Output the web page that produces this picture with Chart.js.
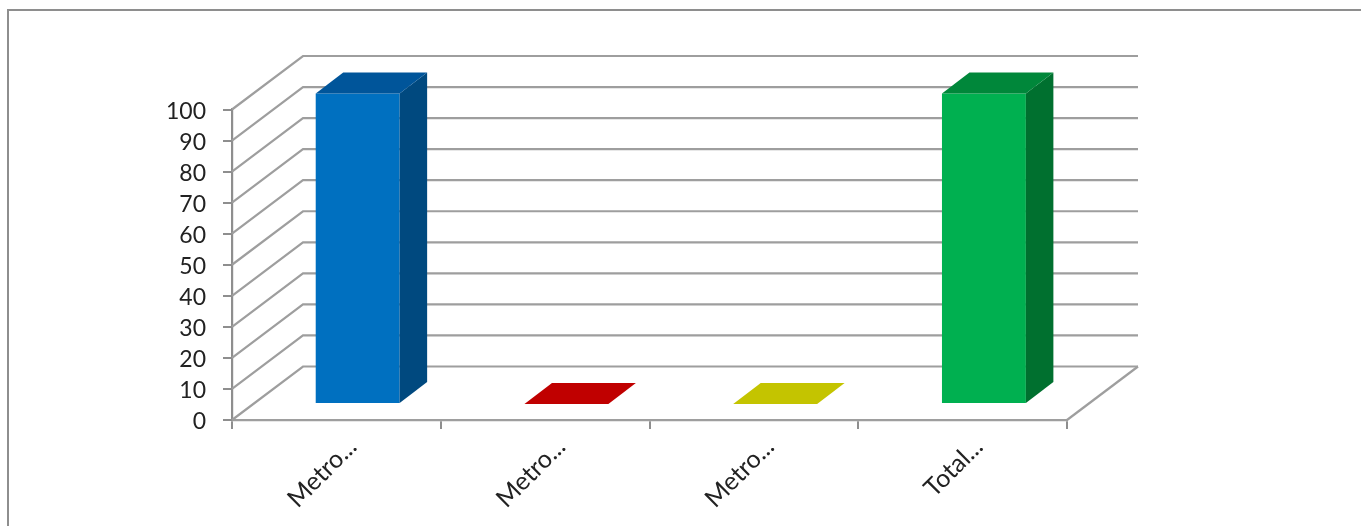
<!DOCTYPE html>
<html>
<head>
<meta charset="utf-8">
<title>Chart</title>
<script src="https://cdn.jsdelivr.net/npm/chart.js@4"></script>
<style>
  html, body { margin: 0; padding: 0; background: #fff; overflow: hidden; }
  #wrap { position: relative; width: 1361px; height: 526px; overflow: hidden; }
  #frame { position: absolute; left: 7px; top: 9px; width: 1400px; height: 600px; border: 2px solid #8e8e8e; }
  canvas { position: absolute; left: 0; top: 0; }
</style>
</head>
<body>
<div id="wrap">
  <div id="frame"></div>
  <canvas id="chart" width="1361" height="526"></canvas>
</div>
<script>
const categories = ['Metro...', 'Metro...', 'Metro...', 'Total...'];
const seriesValues = [100, 0, 0, 100];
const yTicks = [0, 10, 20, 30, 40, 50, 60, 70, 80, 90, 100];

const frontColors = ['#0070C0', '#C00000', '#C4C400', '#00B050'];
const topColors = ['#00559A', '#C00000', '#C4C400', '#00873A'];
const sideColors = ['#00497F', '#C00000', '#C4C400', '#00702F'];

const lineColor = '#9E9E9E';
const tickColor = '#8E8E8E';
const fontName = 'Lato, "Open Sans", sans-serif';

// depth of the box and of each bar, the picture is a fake 3d
const wallX = 71, wallY = 53.5;
const barDepthX = 27.5, barDepthY = 21;
const barShiftX = 21.3, barShiftY = 16;

const fake3d = {
  id: 'fake3d',
  beforeDatasetsDraw(chart) {
    const ctx = chart.ctx;
    const y = chart.scales.y;
    const x = chart.scales.x;
    ctx.save();
    ctx.strokeStyle = lineColor;
    ctx.lineWidth = 2.2;
    yTicks.forEach(t => {
      const py = y.getPixelForValue(t);
      ctx.beginPath();
      ctx.moveTo(x.left, py);
      ctx.lineTo(x.left + wallX, py - wallY);
      ctx.lineTo(x.right + wallX, py - wallY);
      ctx.stroke();
    });
    // right edge of the floor
    const base = y.getPixelForValue(0);
    ctx.beginPath();
    ctx.moveTo(x.right, base);
    ctx.lineTo(x.right + wallX, base - wallY);
    ctx.stroke();
    ctx.restore();

    ctx.save();
    ctx.translate(barShiftX, -barShiftY);
  },
  afterDatasetsDraw(chart) {
    const ctx = chart.ctx;
    chart.getDatasetMeta(0).data.forEach((bar, i) => {
      const p = bar.getProps(['x', 'y', 'base', 'width'], true);
      const l = p.x - p.width / 2, r = p.x + p.width / 2;
      // side
      ctx.fillStyle = sideColors[i];
      ctx.beginPath();
      ctx.moveTo(r, p.y);
      ctx.lineTo(r + barDepthX, p.y - barDepthY);
      ctx.lineTo(r + barDepthX, p.base - barDepthY);
      ctx.lineTo(r, p.base);
      ctx.closePath();
      ctx.fill();
      // top
      ctx.fillStyle = topColors[i];
      ctx.beginPath();
      ctx.moveTo(l, p.y);
      ctx.lineTo(l + barDepthX, p.y - barDepthY);
      ctx.lineTo(r + barDepthX, p.y - barDepthY);
      ctx.lineTo(r, p.y);
      ctx.closePath();
      ctx.fill();
    });
    ctx.restore();
  }
};

new Chart(document.getElementById('chart'), {
  type: 'bar',
  data: {
    labels: categories,
    datasets: [{
      data: seriesValues,
      backgroundColor: frontColors,
      borderWidth: 0,
      categoryPercentage: 1,
      barPercentage: 0.402,
      clip: false
    }]
  },
  plugins: [fake3d],
  options: {
    responsive: false,
    animation: false,
    layout: {
      autoPadding: false,
      padding: { left: 0, right: 294, top: 109.5, bottom: 0 }
    },
    plugins: {
      legend: { display: false },
      title: { display: false },
      tooltip: { enabled: false }
    },
    scales: {
      x: {
        afterFit(scale) { scale.height = 106; },
        grid: { drawOnChartArea: false, drawTicks: true, tickLength: 9, color: tickColor, lineWidth: 2 },
        border: { display: true, color: lineColor, width: 2.2 },
        ticks: {
          autoSkip: false,
          minRotation: 45,
          maxRotation: 45,
          padding: 3,
          labelOffset: 16,
          color: '#222222',
          font: { family: fontName, size: 25 }
        }
      },
      y: {
        min: 0,
        max: 100,
        afterFit(scale) { scale.width = 232; },
        afterBuildTicks(scale) { scale.ticks = yTicks.map(v => ({ value: v })); },
        grid: { drawOnChartArea: false, drawTicks: true, tickLength: 9, color: tickColor, lineWidth: 2 },
        border: { display: true, color: tickColor, width: 2.2 },
        ticks: {
          padding: 17,
          labelOffset: 2,
          color: '#222222',
          font: { family: fontName, size: 23 }
        }
      }
    }
  }
});
</script>
</body>
</html>
